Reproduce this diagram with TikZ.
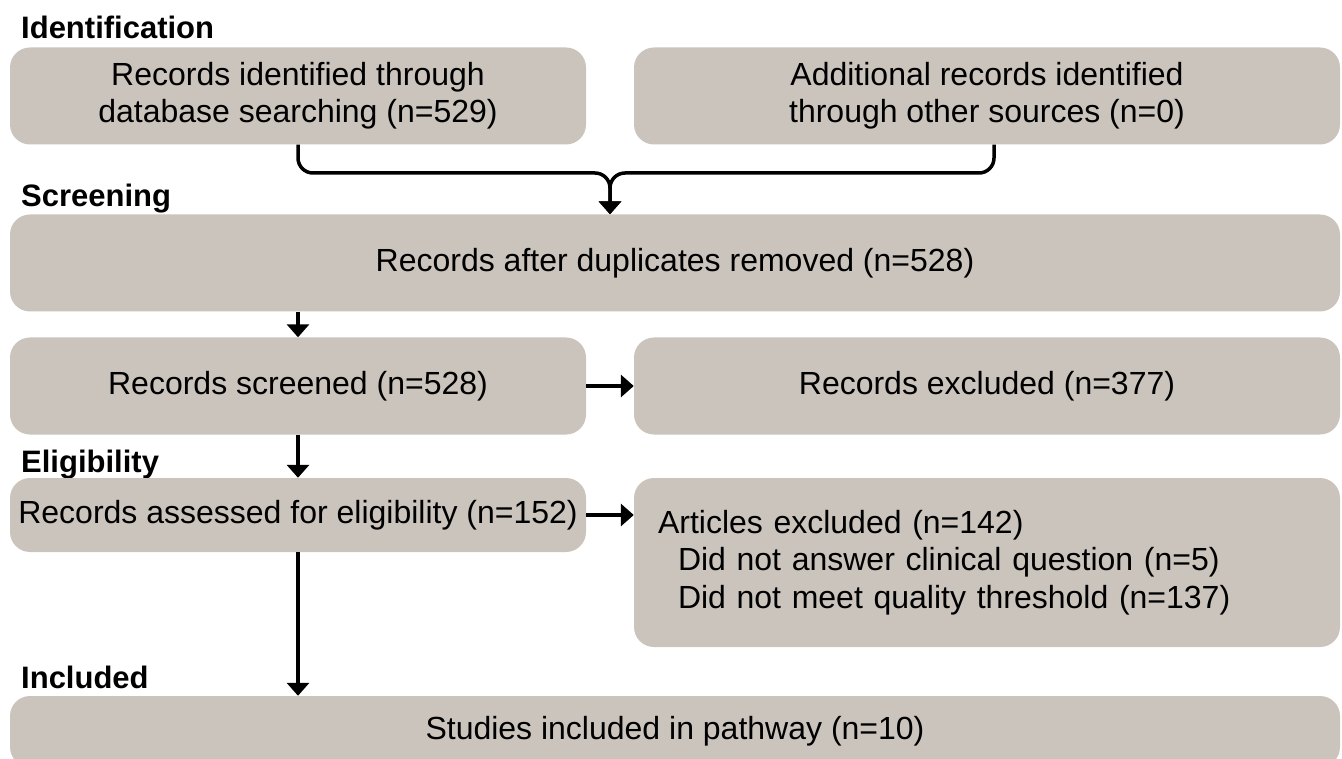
\documentclass[tikz,border=0pt]{standalone}
\usepackage{fontspec}
\setmainfont{Liberation Sans}
\usepackage{tikz}
\usetikzlibrary{arrows.meta,positioning}
\definecolor{boxgrey}{RGB}{202,196,189}

\begin{document}
\begin{tikzpicture}[x=1pt, y=-1pt]
	\tikzstyle{Box}   = [rectangle, rounded corners=20pt, fill=boxgrey, inner sep=0pt, align=center, font=\fontsize{32}{37}\selectfont]
	\tikzstyle{Tall}  = [minimum height=97pt]
	\tikzstyle{Short} = [minimum height=71pt]
	\tikzstyle{Half}  = [minimum width=576pt]
	\tikzstyle{Wide}  = [minimum width=706pt]
	\tikzstyle{Full}  = [minimum width=1330pt]
	\tikzstyle{Stage} = [anchor=base west, inner sep=0pt, font=\fontsize{31}{37}\selectfont\bfseries]
	\tikzstyle{Flow}  = [line width=3.5pt, -{Triangle[width=22pt,length=13pt]}]

	\useasboundingbox (0, 0) rectangle (1342, 759);

	\node (lid)  at (21, 39)  [Stage] {Identification};
	\node (lscr) at (21, 207) [Stage] {Screening};
	\node (lel)  at (21, 472) [Stage] {Eligibility};
	\node (linc) at (21, 688) [Stage] {Included};

	\node (db)      at (298, 96)    [Box][Half][Tall] {Records identified through\\database searching (n=529)};
	\node (other)   at (987, 96)    [Box][Wide][Tall] {Additional records identified\\through other sources (n=0)};
	\node (dup)     at (675, 263)   [Box][Full][Tall] {Records after duplicates removed (n=528)};
	\node (screen)  at (298, 386)   [Box][Half][Tall] {Records screened (n=528)};
	\node (excl)    at (987, 386)   [Box][Wide][Tall] {Records excluded (n=377)};
	\node (assess)  at (298, 515)   [Box][Half][minimum height=74pt] {Records assessed for eligibility (n=152)};
	\node (artexcl) at (987, 562.5) [Box][Wide][minimum height=169pt, align=left, text width=658pt, font=\fontsize{32}{37.5}\selectfont]
		{Articles excluded (n=142)\\\hspace*{20pt}Did not answer clinical question (n=5)\\\hspace*{20pt}Did not meet quality threshold (n=137)};
	\node (incl)    at (675, 731.5) [Box][Full][Short] {Studies included in pathway (n=10)};

	\coordinate (join) at (610, 173);

	\draw [Flow, rounded corners=15pt] (db.south) |- (join) -- (join |- dup.north);
	\draw [Flow, rounded corners=15pt] ([xshift=7pt]other.south) |- (join) -- (join |- dup.north);
	\draw [Flow] (dup.south -| screen.north) -- (screen.north);
	\draw [Flow] (screen) -- (excl);
	\draw [Flow] (screen) -- (assess);
	\draw [Flow] (assess.east) -- (assess.east -| artexcl.west);
	\draw [Flow] (assess) -- (assess.south |- incl.north);
\end{tikzpicture}
\end{document}
